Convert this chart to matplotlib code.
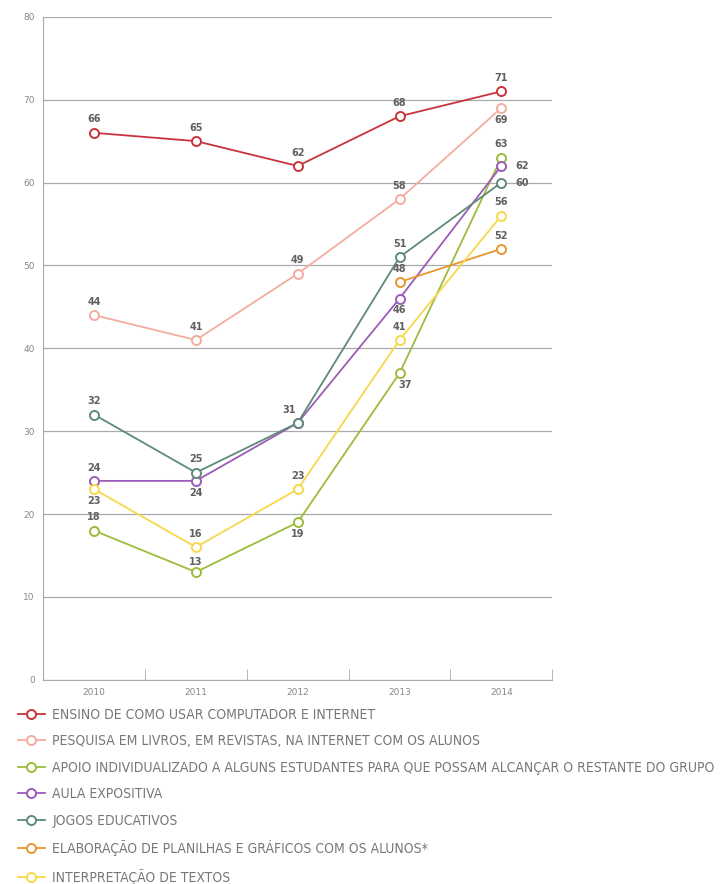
import matplotlib.pyplot as plt
import numpy as np

years = ['2010', '2011', '2012', '2013', '2014']
ensino = [66, 65, 62, 68, 71]
pesquisa = [44, 41, 49, 58, 69]
apoio = [18, 13, 19, 37, 63]
aula = [24, 24, 31, 46, 62]
jogos = [32, 25, 31, 51, 60]
planilhas = [np.nan, np.nan, np.nan, 48, 52]
interpretacao = [23, 16, 23, 41, 56]

nomes = ['ENSINO DE COMO USAR COMPUTADOR E INTERNET',
         'PESQUISA EM LIVROS, EM REVISTAS, NA INTERNET COM OS ALUNOS',
         'APOIO INDIVIDUALIZADO A ALGUNS ESTUDANTES PARA QUE POSSAM ALCANÇAR O RESTANTE DO GRUPO',
         'AULA EXPOSITIVA',
         'JOGOS EDUCATIVOS',
         'ELABORAÇÃO DE PLANILHAS E GRÁFICOS COM OS ALUNOS*',
         'INTERPRETAÇÃO DE TEXTOS']
series = [ensino, pesquisa, apoio, aula, jogos, planilhas, interpretacao]
cores = ['#c9343c', '#f3ad9f', '#9cbc3c', '#9a5cb8', '#5e8a78', '#e8962e', '#f6d84a']

# posição de cada rótulo: (dx, dy) em pontos
desloc = {
    (0, i): (0, 6) for i in range(5)
}
desloc.update({(1, i): (0, 6) for i in range(5)})
desloc[(1, 4)] = (0, -12)
desloc.update({(2, 0): (0, 6), (2, 1): (0, 4), (2, 2): (0, -12), (2, 3): (4, -12), (2, 4): (0, 6)})
desloc.update({(3, 0): (0, 6), (3, 1): (0, -12), (3, 2): None, (3, 3): (0, -12), (3, 4): (10, 0)})
desloc.update({(4, 0): (0, 6), (4, 1): (0, 6), (4, 2): (-6, 6), (4, 3): (0, 6), (4, 4): (10, 0)})
desloc.update({(5, 3): (0, 6), (5, 4): (0, 6)})
desloc.update({(6, 0): (0, -12), (6, 1): (0, 6), (6, 2): (0, 6), (6, 3): (0, 6), (6, 4): (0, 6)})

fig = plt.figure(figsize=(7.2, 8.84), dpi=100)
ax = fig.add_axes([0.06, 0.231, 0.707, 0.75])
x = np.arange(len(years))

for k, (vals, nome, cor) in enumerate(zip(series, nomes, cores)):
    ax.plot(x, vals, color=cor, lw=1.3, marker='o', ms=6.5, mfc='white',
            mec=cor, mew=1.4, label=nome, clip_on=False, zorder=3)
    for i, v in enumerate(vals):
        if np.isnan(v):
            continue
        d = desloc.get((k, i), (0, 6))
        if d is None:
            continue
        ha = 'left' if d[0] >= 10 else 'center'
        va = 'center' if d[1] == 0 else 'bottom'
        ax.annotate(str(v), (i, v), xytext=d, textcoords='offset points',
                    ha=ha, va=va, fontsize=7, color='#606060', fontweight='bold')

ax.set_xlim(-0.5, 4.5)
ax.set_ylim(0, 80)
ax.set_yticks(range(0, 90, 10))
ax.set_xticks(x)
ax.set_xticklabels(years)
ax.set_xticks(np.arange(0.5, 4.6, 1), minor=True)
ax.grid(axis='y', color='#aaaaaa', lw=0.9)
ax.set_axisbelow(True)
for s in ['top', 'right']:
    ax.spines[s].set_visible(False)
ax.spines['left'].set_color('#aaaaaa')
ax.spines['bottom'].set_color('#aaaaaa')
ax.tick_params(axis='both', which='major', length=0, labelsize=6.5, colors='#888888', pad=6)
ax.tick_params(axis='x', which='minor', length=8, direction='in', color='#aaaaaa')

leg = fig.legend(loc='upper left', bbox_to_anchor=(0.007, 0.2135), frameon=False,
                 handlelength=2.0, handletextpad=0.5, labelspacing=0.9,
                 prop={'family': 'DejaVu Sans', 'stretch': 'condensed', 'size': 10})
for t in leg.get_texts():
    t.set_color('#777777')

fig.savefig('out.png', dpi=100)
